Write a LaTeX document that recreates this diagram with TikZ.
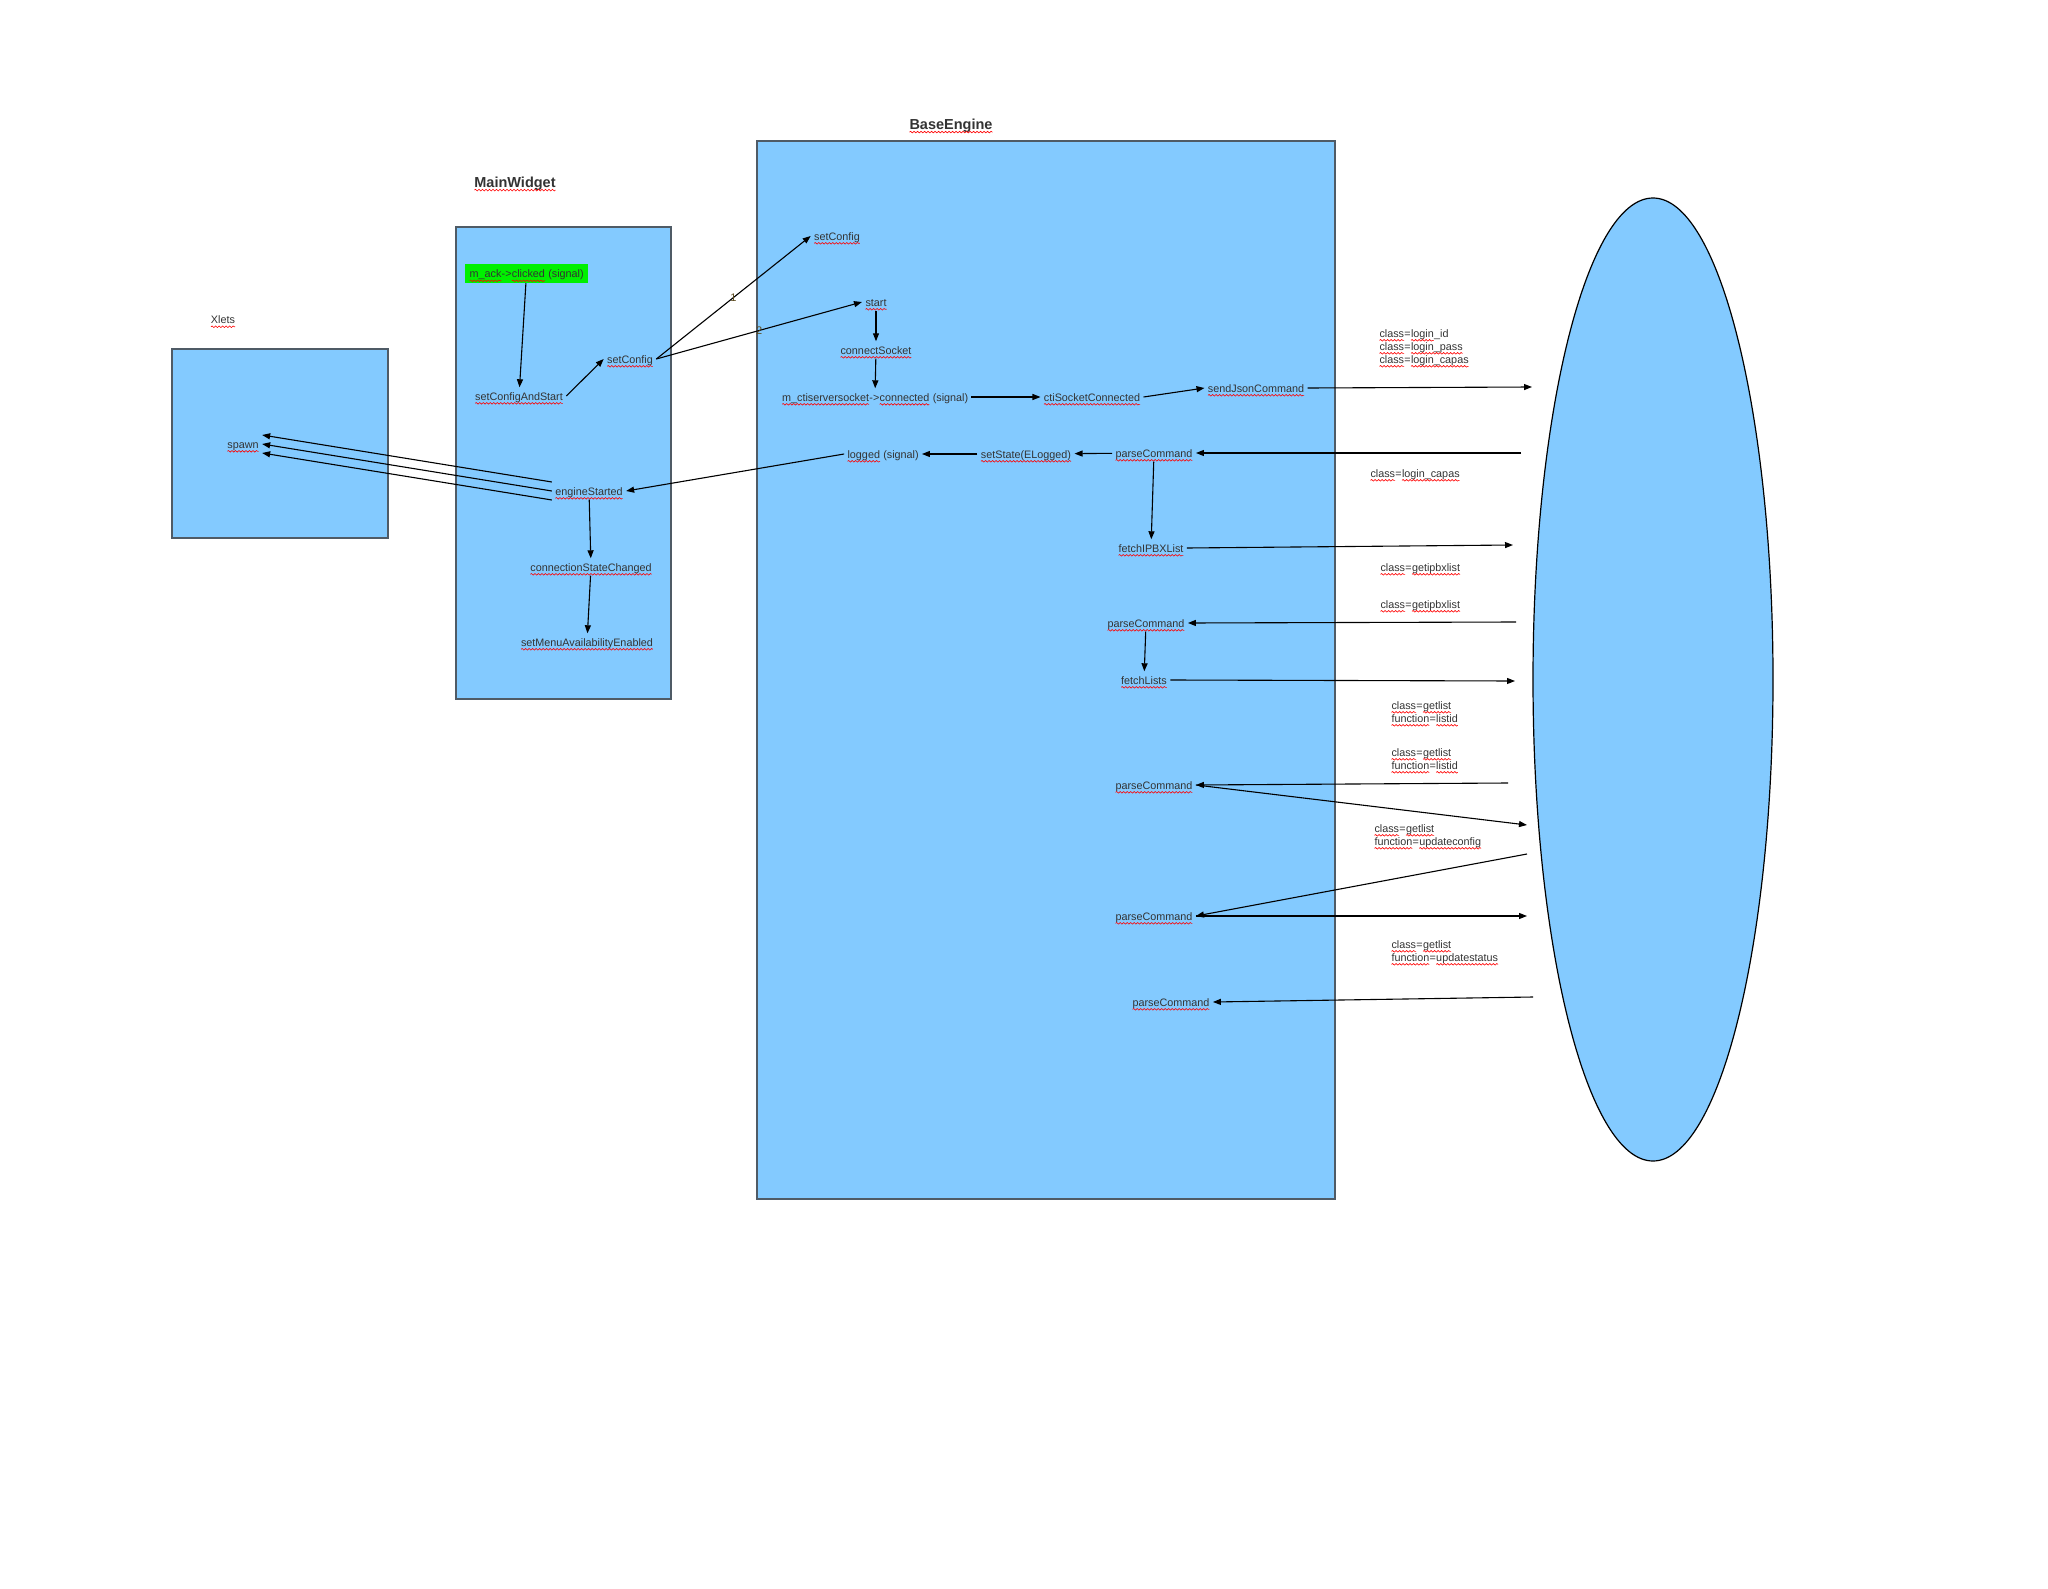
\documentclass[tikz,border=0pt]{standalone}
\usepackage{fontspec}
\setmainfont{Liberation Sans}
\usetikzlibrary{arrows.meta,decorations.pathmorphing}

\definecolor{pane}{HTML}{83CAFF}
\definecolor{edge}{HTML}{4F5B66}
\definecolor{txt}{HTML}{333333}
\definecolor{ackgreen}{HTML}{00F000}
\definecolor{numcol}{HTML}{5C4A1E}

% red wavy underline (spell check marks)
\newcommand\sq[1]{\tikz[baseline=(w.base)]{\node[inner sep=0pt,outer sep=0pt,anchor=base] (w) {#1};
  \draw[red,line width=0.6pt,decorate,decoration={snake,amplitude=0.8pt,segment length=3.5pt}]
    ([yshift=-2.8pt]w.base west) -- ([yshift=-2.8pt]w.base east);}}

\begin{document}
\begin{tikzpicture}[x=1pt,y=-1pt,font=\fontsize{10.8}{13}\selectfont]
    \tikzstyle{every node}=[text=txt]
    \tikzstyle{lbl}=[inner sep=3pt,text height=10pt,text depth=1pt]
    \tikzstyle{cls}=[inner sep=0pt,anchor=north west,align=left]
    \tikzstyle{title}=[font=\fontsize{14.5}{17}\selectfont\bfseries]
    \tikzstyle{block}=[draw=edge,line width=1.5pt,fill=pane]
    \tikzstyle{call}=[-{Triangle[length=8pt,width=6pt]},line width=1.1pt]
    \tikzstyle{num}=[inner sep=0pt,text=numcol,font=\fontsize{11}{13}\selectfont]

    \useasboundingbox (0,0) rectangle (2048,1589);

    % containers
    \draw[block] (172,349) rectangle (388,538);
    \draw[block] (456,227) rectangle (671,699);
    \draw[block] (757,141) rectangle (1335,1199);
    \draw[fill=pane,line width=1.2pt] (1653,679.5) ellipse [x radius=120pt,y radius=481.5pt];

    \node (xlt) at (223,322) {\sq{Xlets}};
    \node[title] (mwt) at (515,184) {\sq{MainWidget}};
    \node[title] (bet) at (951,126) {\sq{BaseEngine}};

    % Xlets / MainWidget
    \node[lbl] (sp) at (243,444) {\sq{spawn}};
    \node[lbl,fill=ackgreen,inner xsep=4.5pt,minimum height=19pt] (ack) at (526.5,273.5)
      {\sq{m\_ack}->\sq{clicked} (signal)};
    \node[lbl] (scs) at (519,396) {\sq{setConfigAndStart}};
    \node[lbl] (mwc) at (630,359) {\sq{setConfig}};
    \node[lbl] (es) at (589,491) {\sq{engineStarted}};
    \node[lbl] (csc) at (591,567) {\sq{connectionStateChanged}};
    \node[lbl] (sma) at (587,642) {\sq{setMenuAvailabilityEnabled}};

    % BaseEngine
    \node[lbl] (bec) at (837,236) {\sq{setConfig}};
    \node[lbl] (st) at (876,302) {\sq{start}};
    \node[lbl] (cs) at (876,350) {\sq{connectSocket}};
    \node[lbl] (ctic) at (875,397) {\sq{m\_ctiserversocket}->\sq{connected} (signal)};
    \node[lbl] (csk) at (1092,397) {\sq{ctiSocketConnected}};
    \node[lbl] (sjc) at (1256,388) {\sq{sendJsonCommand}};
    \node[lbl] (lg) at (883,454) {\sq{logged} (signal)};
    \node[lbl] (ss) at (1026,454) {\sq{setState(ELogged)}};
    \node[lbl] (pc1) at (1154,453) {\sq{parseCommand}};
    \node[lbl] (fil) at (1151,548) {\sq{fetchIPBXList}};
    \node[lbl] (pc2) at (1146,623) {\sq{parseCommand}};
    \node[lbl] (fl) at (1144,680) {\sq{fetchLists}};
    \node[lbl] (pc3) at (1154,785) {\sq{parseCommand}};
    \node[lbl] (pc4) at (1154,916) {\sq{parseCommand}};
    \node[lbl] (pc5) at (1171,1002) {\sq{parseCommand}};

    % messages to / from the server
    \node[cls] (m1) at (1379,329.5) {\sq{class}=\sq{login}\_id\\\sq{class}=\sq{login\_pass}\\\sq{class}=\sq{login\_capas}};
    \node[cls] (m2) at (1370,469.5) {\sq{class}=\sq{login\_capas}};
    \node[cls] (m3) at (1380,563.5) {\sq{class}=\sq{getipbxlist}};
    \node[cls] (m4) at (1380,600.5) {\sq{class}=\sq{getipbxlist}};
    \node[cls] (m5) at (1391,701.5) {\sq{class}=\sq{getlist}\\\sq{function}=\sq{listid}};
    \node[cls] (m6) at (1391,748.5) {\sq{class}=\sq{getlist}\\\sq{function}=\sq{listid}};
    \node[cls] (m7) at (1374,824.5) {\sq{class}=\sq{getlist}\\\sq{function}=\sq{updateconfig}};
    \node[cls] (m8) at (1391,940.5) {\sq{class}=\sq{getlist}\\\sq{function}=\sq{updatestatus}};

    \coordinate (e1) at (1532,387);
    \coordinate (e2) at (1521,453);
    \coordinate (e3) at (1513,545);
    \coordinate (e4) at (1516,622);
    \coordinate (e5) at (1515,681);
    \coordinate (e6) at (1508,783);
    \coordinate (e7) at (1527,825);
    \coordinate (e8) at (1527,854);
    \coordinate (e9) at (1527,916);
    \coordinate (e10) at (1533,997);

    \draw[call] (ack) -- (scs);
    \draw[call] (scs.east) -- (mwc.west);
    \draw[call] (mwc.east) -- node[num] {1} (bec.west);
    \draw[call] (mwc.east) -- node[num] {2} (st.west);
    \draw[call] (st) -- (cs);
    \draw[call] (cs) -- (ctic);
    \draw[call] (ctic) -- (csk);
    \draw[call] (csk.east) -- (sjc.west);
    \draw[call] (sjc.east) -- (e1);
    \draw[call] (e2) -- (pc1.east);
    \draw[call] (pc1) -- (ss);
    \draw[call] (ss) -- (lg);
    \draw[call] (lg.west) -- (es.east);
    \foreach \d in {9,0,-9}
    \draw[call] ([yshift=\d pt]es.west) -- ([yshift=\d pt]sp.east);
    \draw[call] (es) -- (csc);
    \draw[call] (csc) -- (sma);
    \draw[call] (pc1) -- (fil);
    \draw[call] (fil.east) -- (e3);
    \draw[call] (e4) -- (pc2.east);
    \draw[call] (pc2) -- (fl);
    \draw[call] (fl.east) -- (e5);
    \draw[call] (e6) -- (pc3.east);
    \draw[call] (pc3.east) -- (e7);
    \draw[call] (e8) -- (pc4.east);
    \draw[call] (pc4.east) -- (e9);
    \draw[call] (e10) -- (pc5.east);
\end{tikzpicture}
\end{document}
